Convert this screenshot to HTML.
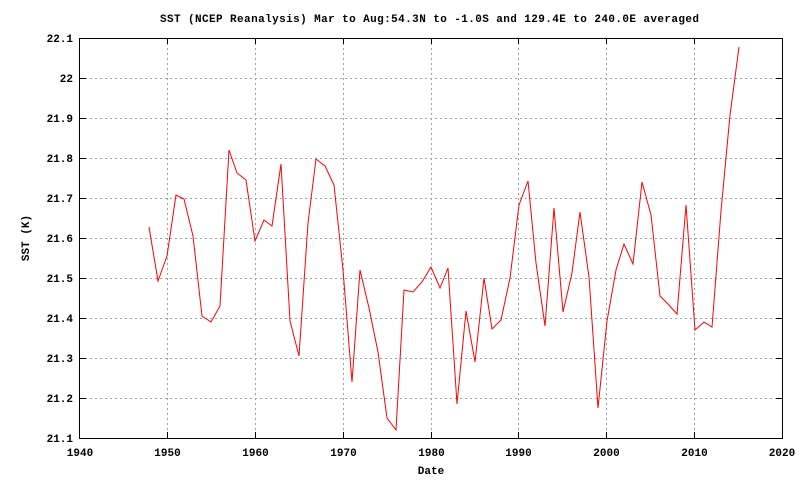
<!DOCTYPE html>
<html><head><meta charset="utf-8"><style>
html,body{margin:0;padding:0;background:#fff;}
svg{display:block;font-family:"Liberation Mono","DejaVu Sans Mono",monospace;font-size:11px;font-weight:bold;}
</style></head><body>
<svg width="800" height="480" viewBox="0 0 800 480" xmlns="http://www.w3.org/2000/svg">
<rect width="800" height="480" fill="#fff"/>
<g stroke="#a0a0a0" stroke-width="1" stroke-dasharray="2,3" shape-rendering="crispEdges">
<line x1="167.5" y1="38" x2="167.5" y2="438"/><line x1="255.5" y1="38" x2="255.5" y2="438"/>
<line x1="343.5" y1="38" x2="343.5" y2="438"/><line x1="431.5" y1="38" x2="431.5" y2="438"/>
<line x1="518.5" y1="38" x2="518.5" y2="438"/><line x1="606.5" y1="38" x2="606.5" y2="438"/>
<line x1="694.5" y1="38" x2="694.5" y2="438"/>
<line x1="80" y1="78.5" x2="782" y2="78.5"/><line x1="80" y1="118.5" x2="782" y2="118.5"/>
<line x1="80" y1="158.5" x2="782" y2="158.5"/><line x1="80" y1="198.5" x2="782" y2="198.5"/>
<line x1="80" y1="238.5" x2="782" y2="238.5"/><line x1="80" y1="278.5" x2="782" y2="278.5"/>
<line x1="80" y1="318.5" x2="782" y2="318.5"/><line x1="80" y1="358.5" x2="782" y2="358.5"/>
<line x1="80" y1="398.5" x2="782" y2="398.5"/>
</g>
<rect x="79.5" y="38.5" width="703" height="400" fill="none" stroke="#000" stroke-width="1" shape-rendering="crispEdges"/>
<g stroke="#000" shape-rendering="crispEdges">
<path d="M167.5 438v-6M255.5 438v-6M343.5 438v-6M431.5 438v-6M518.5 438v-6M606.5 438v-6M694.5 438v-6M167.5 38v6M255.5 38v6M343.5 38v6M431.5 38v6M518.5 38v6M606.5 38v6M694.5 38v6"/>
<path d="M80 78.5h6M80 118.5h6M80 158.5h6M80 198.5h6M80 238.5h6M80 278.5h6M80 318.5h6M80 358.5h6M80 398.5h6M782 78.5h-6M782 118.5h-6M782 158.5h-6M782 198.5h-6M782 238.5h-6M782 278.5h-6M782 318.5h-6M782 358.5h-6M782 398.5h-6"/>
</g>
<polyline fill="none" stroke="#f00" stroke-width="1" points="149,227 158,281 167,256 176,195 184,199 193,236 202,316 211,322 220,306 229,150 237,173 246,180 255,241 264,220 272,226 281,164 290,321 299,356 308,223 316,159 325,166 334,185 343,270 352,382 360,270 369,308 378,352 387,418 396,430 404,290 413,292 422,282 431,267 440,288 448,268 457,404 466,311 475,362 484,278 492,329 501,320 510,278 519,205 528,181 536,263 545,326 554,208 563,312 572,273 580,212 589,277 598,408 607,321 616,270 624,244 633,264 642,182 651,215 660,296 668,304 677,314 686,205 695,330 704,322 712,327 721,211 730,115 739,47"/>
<g text-anchor="end" fill="#000">
<text x="73" y="42">22.1</text><text x="73" y="82">22</text><text x="73" y="122">21.9</text>
<text x="73" y="162">21.8</text><text x="73" y="202">21.7</text><text x="73" y="242">21.6</text>
<text x="73" y="282">21.5</text><text x="73" y="322">21.4</text><text x="73" y="362">21.3</text>
<text x="73" y="402">21.2</text><text x="73" y="442">21.1</text>
</g>
<g text-anchor="middle" fill="#000">
<text x="80" y="456">1940</text><text x="167.5" y="456">1950</text><text x="255.5" y="456">1960</text>
<text x="343.5" y="456">1970</text><text x="431.5" y="456">1980</text><text x="518.5" y="456">1990</text>
<text x="606.5" y="456">2000</text><text x="694.5" y="456">2010</text><text x="782" y="456">2020</text>
<text x="431" y="474">Date</text>
<text transform="translate(29,238) rotate(-90)">SST (K)</text>
</g>
<text x="160" y="22" fill="#000" textLength="539" lengthAdjust="spacing">SST (NCEP Reanalysis) Mar to Aug:54.3N to -1.0S and 129.4E to 240.0E averaged</text>
</svg>
</body></html>
